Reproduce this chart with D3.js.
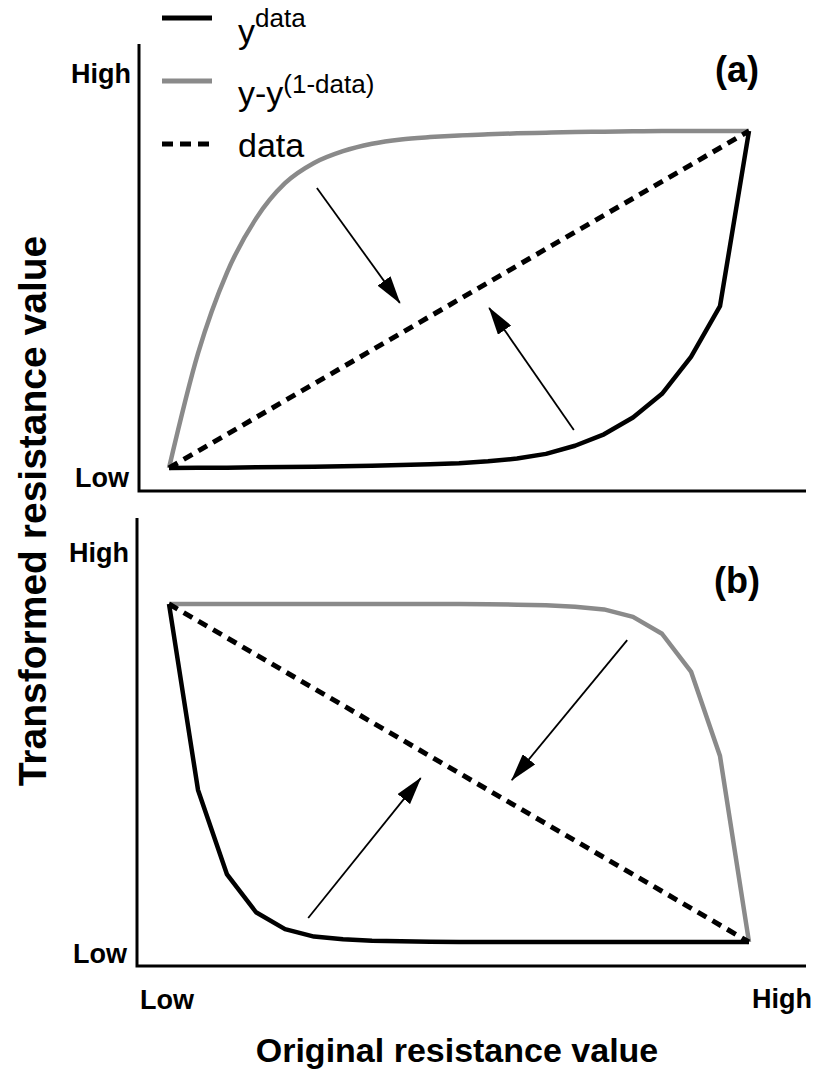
<!DOCTYPE html>
<html>
<head>
<meta charset="utf-8">
<script src="https://cdn.jsdelivr.net/npm/d3@7"></script>
<style>
  body { margin: 0; background: #fff; }
  svg text { font-family: "Liberation Sans", Arial, sans-serif; fill: #000; }
</style>
</head>
<body>
<svg id="chart" width="814" height="1078"></svg>
<script>
// original resistance value, sampled in steps of 0.05
const xs = [0, 0.05, 0.1, 0.15, 0.2, 0.25, 0.3, 0.35, 0.4, 0.45, 0.5,
  0.55, 0.6, 0.65, 0.7, 0.75, 0.8, 0.85, 0.9, 0.95, 1];

// panel (a)
const aPower = [0, 0.001, 0.001, 0.002, 0.003, 0.004, 0.005, 0.007, 0.009, 0.011, 0.014,
  0.02, 0.028, 0.042, 0.066, 0.1, 0.15, 0.22, 0.33, 0.48, 1];
const aComplement = [0, 0.34, 0.58, 0.74, 0.845, 0.905, 0.94, 0.962, 0.975, 0.982, 0.987,
  0.99, 0.993, 0.995, 0.997, 0.998, 0.999, 1, 1, 1, 1];
const aIdentity = [0, 1];

// panel (b)
const bPower = [1, 0.45, 0.2, 0.088, 0.038, 0.016, 0.008, 0.004, 0.002, 0.001, 0,
  0, 0, 0, 0, 0, 0, 0, 0, 0, 0];
const bComplement = [1, 1, 1, 1, 1, 1, 1, 1, 1, 1, 1,
  0.999, 0.998, 0.996, 0.992, 0.984, 0.962, 0.912, 0.8, 0.55, 0];
const bIdentity = [1, 0];

// arrows [x0, y0, x1, y1] in data units
const aArrows = [[0.255, 0.831, 0.398, 0.49], [0.698, 0.113, 0.552, 0.475]];
const bArrows = [[0.79, 0.893, 0.591, 0.479], [0.24, 0.071, 0.434, 0.485]];

const tickLabels = ['Low', 'High'];
const seriesNames = ['data', '(1-data)', 'data'];

const config = {
  'black': '#000',
  'grey': '#8a8a8a',
  'curve-width': 4.5,
  'dash': '10,7',
  'axis-width': 3,
  'font-tick': '27px',
  'font-title': '34px',
};

const svg = d3.select('#chart');
svg.append('rect').attr('width', 814).attr('height', 1078).attr('fill', '#fff');

const defs = svg.append('defs');
defs.append('marker')
  .attr('id', 'head')
  .attr('markerUnits', 'userSpaceOnUse')
  .attr('viewBox', '0 0 28 16')
  .attr('refX', 27)
  .attr('refY', 8)
  .attr('markerWidth', 28)
  .attr('markerHeight', 16)
  .attr('orient', 'auto')
  .append('path')
  .attr('d', 'M0,0 L28,8 L0,16 Z')
  .attr('fill', '#000');

const x = d3.scaleLinear().domain([0, 1]).range([169, 749]);

const panels = [
  { label: '(a)', power: aPower, comp: aComplement, ident: aIdentity, arrows: aArrows,
    powerCurve: d3.curveLinear, compCurve: d3.curveMonotoneX,
    top: 44, bottom: 491, left: 139, range: [468, 131], labelY: 82, highY: 83, lowY: 487 },
  { label: '(b)', power: bPower, comp: bComplement, ident: bIdentity, arrows: bArrows,
    powerCurve: d3.curveLinear, compCurve: d3.curveLinear,
    top: 518, bottom: 966, left: 137, range: [942, 604], labelY: 593, highY: 562, lowY: 963 },
];

panels.forEach(p => {
  const y = d3.scaleLinear().domain([0, 1]).range(p.range);
  const g = svg.append('g');

  const line = (curve) => d3.line()
    .x(d => x(d[0]))
    .y(d => y(d[1]))
    .curve(curve);

  // frame
  g.append('path')
    .attr('d', `M${p.left},${p.top} V${p.bottom} H806`)
    .attr('fill', 'none')
    .attr('stroke', '#000')
    .attr('stroke-width', config['axis-width']);

  g.append('text')
    .attr('x', p.left - 8)
    .attr('y', p.highY)
    .attr('text-anchor', 'end')
    .style('font-size', config['font-tick'])
    .style('font-weight', 'bold')
    .text(tickLabels[1]);

  g.append('text')
    .attr('x', p.left - 10)
    .attr('y', p.lowY)
    .attr('text-anchor', 'end')
    .style('font-size', config['font-tick'])
    .style('font-weight', 'bold')
    .text(tickLabels[0]);

  g.append('path')
    .datum(xs.map((v, i) => [v, p.comp[i]]))
    .attr('d', line(p.compCurve))
    .attr('fill', 'none')
    .attr('stroke', config['grey'])
    .attr('stroke-width', config['curve-width'])
    .attr('stroke-linejoin', 'round');

  g.append('path')
    .datum(xs.map((v, i) => [v, p.power[i]]))
    .attr('d', line(p.powerCurve))
    .attr('fill', 'none')
    .attr('stroke', config['black'])
    .attr('stroke-width', config['curve-width'])
    .attr('stroke-linejoin', 'round');

  g.append('path')
    .datum([[0, p.ident[0]], [1, p.ident[1]]])
    .attr('d', line(d3.curveLinear))
    .attr('fill', 'none')
    .attr('stroke', '#000')
    .attr('stroke-width', 5)
    .attr('stroke-dasharray', config['dash']);

  g.selectAll('line.arrow')
    .data(p.arrows)
    .enter()
    .append('line')
    .attr('class', 'arrow')
    .attr('x1', d => x(d[0]))
    .attr('y1', d => y(d[1]))
    .attr('x2', d => x(d[2]))
    .attr('y2', d => y(d[3]))
    .attr('stroke', '#000')
    .attr('stroke-width', 1.8)
    .attr('marker-end', 'url(#head)');

  g.append('text')
    .attr('x', 737)
    .attr('y', p.labelY)
    .attr('text-anchor', 'middle')
    .style('font-size', '36px')
    .style('font-weight', 'bold')
    .text(p.label);
});

// bottom tick labels
svg.append('text')
  .attr('x', x(0) - 29)
  .attr('y', 1009)
  .style('font-size', config['font-tick'])
  .style('font-weight', 'bold')
  .text(tickLabels[0]);
svg.append('text')
  .attr('x', 812)
  .attr('y', 1008)
  .attr('text-anchor', 'end')
  .style('font-size', config['font-tick'])
  .style('font-weight', 'bold')
  .text(tickLabels[1]);

// axis titles
svg.append('text')
  .attr('x', 457)
  .attr('y', 1062)
  .attr('text-anchor', 'middle')
  .style('font-size', config['font-title'])
  .style('font-weight', 'bold')
  .text('Original resistance value');

svg.append('text')
  .attr('transform', 'translate(46,511) rotate(-90)')
  .attr('text-anchor', 'middle')
  .style('font-size', '39px')
  .style('font-weight', 'bold')
  .text('Transformed resistance value');

// legend
const legend = svg.append('g');
const rows = [
  { y: 18, stroke: config['black'], dash: null },
  { y: 81, stroke: config['grey'], dash: null },
  { y: 144, stroke: '#000', dash: '11,7' },
];
rows.forEach(r => {
  legend.append('line')
    .attr('x1', 162).attr('x2', 212)
    .attr('y1', r.y).attr('y2', r.y)
    .attr('stroke', r.stroke)
    .attr('stroke-width', 5)
    .attr('stroke-dasharray', r.dash);
});

const t1 = legend.append('text').attr('x', 238).attr('y', 43).style('font-size', '34px');
t1.append('tspan').text('y');
t1.append('tspan').attr('y', 27).style('font-size', '26px').text(seriesNames[0]);

const t2 = legend.append('text').attr('x', 238).attr('y', 105).style('font-size', '34px');
t2.append('tspan').text('y-y');
t2.append('tspan').attr('y', 93).style('font-size', '26px').text(seriesNames[1]);

legend.append('text').attr('x', 238).attr('y', 157).style('font-size', '34px').text(seriesNames[2]);
</script>
</body>
</html>
